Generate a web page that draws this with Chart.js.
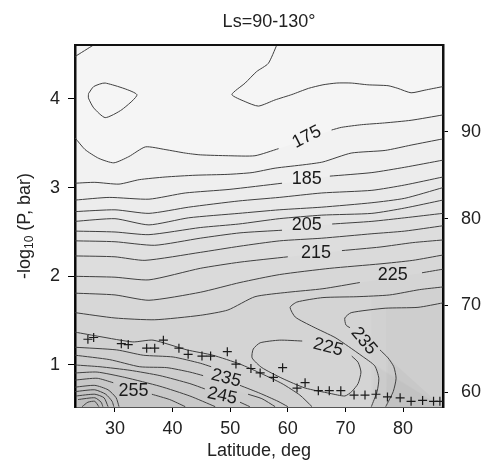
<!DOCTYPE html>
<html>
<head>
<meta charset="utf-8">
<script src="https://cdn.jsdelivr.net/npm/chart.js@4.4.1/dist/chart.umd.min.js"></script>
<style>
  html, body { margin: 0; padding: 0; background: #fff; }
  #wrap { width: 492px; height: 466px; position: relative; }
</style>
</head>
<body>
<div id="wrap"><canvas id="myChart"></canvas></div>
<script>
  const latTicks = [30, 40, 50, 60, 70, 80];
  const pTicks = [1, 2, 3, 4];
  const altTicks = [60, 70, 80, 90];

  // contour lines as [latitude, -log10 P]; null marks a break where a label sits
  const cCorner = [[23.1, 4.48], [26.3, 4.61]];
  const cLoopW = [[25.4, 4.06], [26.3, 4.14], [28.3, 4.18], [33.8, 4.05], [31.2, 3.88], [28.3, 3.79], [26.3, 3.90], [25.4, 4.01], [25.4, 4.06]];
  const c170 = [[58.1, 4.61], [56.6, 4.40], [54.6, 4.31], [52.6, 4.18], [50.3, 4.05], [52.6, 3.97], [54.9, 3.92], [57.8, 3.99], [60.7, 4.05], [63.6, 4.12], [66.1, 4.16], [68.5, 4.18], [71.0, 4.18], [73.9, 4.16], [77.4, 4.15], [79.1, 4.12], [81.4, 4.07], [83.8, 4.10], [86.9, 4.14]];
  const c175 = [[23.1, 3.56], [24.8, 3.43], [27.2, 3.33], [29.8, 3.28], [32.4, 3.35], [35.3, 3.46], [38.7, 3.43], [42.2, 3.39], [44.8, 3.37], [49.7, 3.36], [54.3, 3.36], [58.4, 3.44], [63.0, null], [67.6, 3.65], [69.3, 3.68], [72.8, 3.71], [76.8, 3.73], [81.4, 3.76], [86.9, 3.82]];
  const c180 = [[23.1, 3.05], [26.5, 3.06], [30.7, 3.04], [34.2, 3.09], [38.7, 3.12], [43.9, 3.14], [49.6, 3.15], [53.8, 3.17], [57.8, 3.22], [63.0, 3.26], [66.1, 3.29], [71.0, 3.39], [76.9, 3.42], [81.4, 3.48], [86.9, 3.55]];
  const c185 = [[23.1, 2.86], [29.0, 2.89], [35.9, 2.87], [42.2, 2.94], [49.8, 2.98], [59.0, 3.05], [63.3, null], [67.3, 3.13], [74.6, 3.17], [80.3, 3.23], [86.9, 3.31]];
  const c190 = [[23.1, 2.73], [30.0, 2.75], [35.9, 2.71], [42.8, 2.78], [51.5, 2.85], [58.5, 2.89], [65.9, 2.94], [74.6, 2.97], [80.3, 3.03], [86.9, 3.12]];
  const c195 = [[23.1, 2.62], [30.0, 2.65], [35.9, 2.58], [42.8, 2.66], [51.5, 2.71], [58.5, 2.75], [65.9, 2.78], [74.6, 2.83], [80.3, 2.88], [86.9, 3.00]];
  const c200 = [[23.1, 2.51], [30.0, 2.50], [35.9, 2.47], [44.8, 2.55], [51.5, 2.59], [58.5, 2.65], [65.9, 2.69], [74.6, 2.71], [80.3, 2.77], [86.9, 2.86]];
  const c205 = [[23.1, 2.40], [30.0, 2.39], [36.9, 2.35], [44.8, 2.43], [51.7, 2.49], [59.0, 2.52], [63.3, null], [67.7, 2.59], [74.6, 2.62], [80.3, 2.66], [86.9, 2.71]];
  const c210 = [[23.1, 2.23], [30.0, 2.22], [35.2, 2.18], [44.8, 2.27], [51.7, 2.34], [58.6, 2.40], [65.9, 2.43], [74.6, 2.48], [80.3, 2.51], [86.9, 2.57]];
  const c215 = [[23.1, 2.00], [30.0, 1.99], [35.9, 1.96], [44.8, 2.09], [51.7, 2.16], [60.0, 2.22], [64.9, null], [69.4, 2.29], [76.0, 2.33], [81.7, 2.38], [86.9, 2.41]];
  const c220 = [[23.1, 1.81], [30.0, 1.79], [35.9, 1.73], [44.8, 1.82], [51.7, 1.93], [58.6, 2.02], [67.3, 2.09], [76.0, 2.14], [81.7, 2.18], [86.9, 2.24]];
  const c225 = [[23.1, 1.59], [30.0, 1.53], [36.9, 1.51], [44.8, 1.56], [49.6, 1.62], [54.3, 1.77], [60.0, 1.82], [66.1, 1.86], [72.5, 1.93], [78.2, null], [83.3, 2.04], [86.9, 2.08]];
  const cNose = [[86.9, 1.88], [82.9, 1.85], [77.7, 1.79], [72.0, 1.77], [66.1, 1.76], [61.6, 1.71], [60.4, 1.65], [61.3, 1.54], [64.4, 1.43], [68.2, 1.31], [70.5, 1.21], [72.9, 1.10], [75.1, 0.99], [75.8, 0.85], [75.5, 0.70], [74.5, 0.53]];
  const cHook = [[86.9, 1.70], [82.6, 1.65], [76.9, 1.64], [71.0, 1.59], [69.9, 1.53], [70.1, 1.45], [70.8, 1.42], [73.2, null], [76.0, 1.17], [77.4, 1.08], [78.4, 0.98], [78.8, 0.85], [78.3, 0.70], [77.0, 0.53]];
  const cInner = [[62.5, 1.27], [58.6, 1.28], [55.2, 1.25], [54.0, 1.18], [53.8, 1.08], [55.5, 0.97], [59.0, 0.85], [63.0, 0.74], [67.3, 0.68], [69.9, 0.65], [71.1, 0.70], [72.2, 0.79], [72.7, 0.92], [72.2, 1.03], [71.1, 1.10]];
  const cL230 = [[23.1, 1.37], [27.4, 1.32], [33.1, 1.26], [36.6, 1.28], [42.5, 1.17], [47.0, 1.11], [51.7, 1.01], [55.5, 0.90], [59.0, 0.79], [62.1, 0.66], [64.2, 0.53]];
  const cL235 = [[23.1, 1.20], [30.3, 1.17], [34.9, 1.11], [40.1, 1.09], [44.8, 1.02], [46.7, 0.98], [49.3, null], [51.7, 0.77], [55.2, 0.68], [58.3, 0.59], [60.0, 0.53]];
  const cL240 = [[23.1, 1.11], [29.1, 1.06], [34.3, 0.98], [39.0, 0.97], [43.0, 0.92], [45.3, 0.88], [49.0, null], [53.1, 0.67], [55.5, 0.62], [57.8, 0.53]];
  const cL245 = [[23.1, 1.00], [27.4, 0.98], [32.6, 0.94], [37.8, 0.88], [43.0, 0.79], [45.6, 0.73], [48.6, null], [51.7, 0.58], [53.4, 0.53]];
  const cL250 = [[23.1, 0.91], [26.9, 0.92], [31.7, 0.86], [37.8, 0.76], [43.0, 0.65], [47.4, 0.53]];
  const cL255 = [[23.1, 0.83], [26.9, 0.85], [29.7, 0.80], [33.2, null], [36.4, 0.67], [39.5, 0.61], [42.2, 0.53]];
  const cL260 = [[23.1, 0.75], [26.5, 0.77], [28.8, 0.72], [30.2, 0.63], [30.7, 0.53]];
  const cL265 = [[23.1, 0.70], [26.5, 0.72], [28.4, 0.67], [29.5, 0.59], [29.8, 0.53]];
  const cL270 = [[23.2, 0.65], [26.5, 0.67], [28.1, 0.63], [28.8, 0.53]];
  const cL275 = [[23.6, 0.61], [26.5, 0.63], [27.6, 0.58], [27.9, 0.53]];
  const cL280 = [[24.3, 0.53], [25.3, 0.58], [26.5, 0.59], [27.2, 0.53]];

  // crosses along the lower contours
  const crossLat = [25.3, 26.3, 31.1, 32.3, 35.5, 36.9, 38.4, 41.1, 42.7, 45.1, 46.6, 49.5, 51.0, 53.6, 55.2, 57.5, 59.1, 61.6, 63.0, 65.3, 67.2, 69.2, 71.5, 73.4, 75.3, 77.3, 79.5, 81.4, 83.4, 85.3, 86.4];
  const crossP = [1.29, 1.31, 1.24, 1.23, 1.19, 1.19, 1.28, 1.19, 1.12, 1.10, 1.10, 1.15, 1.01, 0.96, 0.91, 0.86, 0.97, 0.74, 0.80, 0.71, 0.71, 0.71, 0.66, 0.66, 0.67, 0.64, 0.63, 0.59, 0.60, 0.59, 0.59];

  // contour labels
  const labelText = ['175', '185', '205', '215', '225', '235', '225', '235', '245', '255'];
  const labelLat = [63.3, 63.3, 63.3, 64.9, 78.2, 73.2, 67.0, 49.3, 48.6, 33.2];
  const labelP = [3.57, 3.10, 2.58, 2.26, 2.01, 1.27, 1.20, 0.85, 0.65, 0.71];

  const FONT = '"Liberation Sans", Arial, Helvetica, sans-serif';
  Chart.defaults.font.family = FONT;
  Chart.defaults.font.size = 18;
  Chart.defaults.color = '#222';

  const pts = arr => arr.map(p => ({ x: p[0], y: p[1] }));

  const mainLines = [c175, c180, c185, c190, c195, c200, c205, c210, c215, c220, c225, cL230, cNose, cHook];
  const lowLines = [cL235, cL240, cL245, cL250, cL255, cL260, cL265, cL270, cL275, cL280];
  const otherLines = [cCorner, cLoopW, c170, cInner];

  const datasets = [];

  datasets.push({
    data: crossLat.map((v, i) => ({ x: v, y: crossP[i] })),
    showLine: false,
    pointStyle: 'cross',
    pointRadius: 4.5,
    pointBorderColor: '#1a1a1a',
    pointBorderWidth: 1.2,
    order: 0
  });

  [...otherLines, ...mainLines, ...lowLines].forEach(arr => {
    datasets.push({
      data: pts(arr),
      borderColor: '#404040',
      borderWidth: 1,
      pointRadius: 0,
      tension: 0.2,
      spanGaps: false,
      fill: false,
      order: 1
    });
  });

  // shading: each contour darkens everything below it a little
  mainLines.forEach(arr => {
    datasets.push({
      data: pts(arr),
      borderWidth: 0,
      borderColor: 'rgba(0,0,0,0)',
      backgroundColor: 'rgba(0,0,0,0.013)',
      pointRadius: 0,
      tension: 0.2,
      spanGaps: true,
      fill: 'start',
      order: 2
    });
  });
  lowLines.forEach(arr => {
    datasets.push({
      data: pts(arr),
      borderWidth: 0,
      borderColor: 'rgba(0,0,0,0)',
      backgroundColor: 'rgba(0,0,0,0.006)',
      pointRadius: 0,
      tension: 0.2,
      spanGaps: true,
      fill: 'start',
      order: 2
    });
  });

  const framePlugin = {
    id: 'frame',
    beforeDraw(chart) {
      const { ctx, chartArea: a } = chart;
      ctx.save();
      ctx.fillStyle = '#f5f5f5';
      ctx.fillRect(a.left, a.top, a.right - a.left, a.bottom - a.top);
      ctx.restore();
    },
    afterDraw(chart) {
      const { ctx, chartArea: a } = chart;
      ctx.save();
      ctx.strokeStyle = '#111';
      ctx.lineWidth = 2;
      ctx.beginPath();
      ctx.moveTo(a.left - 1, a.top);
      ctx.lineTo(a.right + 1, a.top);
      ctx.stroke();

      ctx.fillStyle = '#222';
      ctx.textAlign = 'center';
      ctx.textBaseline = 'middle';
      ctx.font = '18px ' + FONT;
      ctx.fillText('Ls=90-130°', (a.left + a.right) / 2 + 10, 22);

      // y axis title with a subscript
      ctx.translate(25, (a.top + a.bottom) / 2);
      ctx.rotate(-Math.PI / 2);
      const big = '18px ' + FONT, small = '12px ' + FONT;
      ctx.font = big;
      const w1 = ctx.measureText('-log').width;
      const w3 = ctx.measureText(' (P, bar)').width;
      ctx.font = small;
      const w2 = ctx.measureText('10').width;
      let x0 = -(w1 + w2 + w3) / 2;
      ctx.textAlign = 'left';
      ctx.font = big; ctx.fillText('-log', x0, 0); x0 += w1;
      ctx.font = small; ctx.fillText('10', x0, 5); x0 += w2;
      ctx.font = big; ctx.fillText(' (P, bar)', x0, 0);
      ctx.restore();
    }
  };

  const labelPlugin = {
    id: 'contourLabels',
    afterDatasetsDraw(chart, args, opts) {
      const { ctx, scales: { x, y } } = chart;
      ctx.save();
      ctx.font = '18px ' + FONT;
      ctx.fillStyle = '#1a1a1a';
      ctx.textAlign = 'center';
      ctx.textBaseline = 'middle';
      labelText.forEach((t, i) => {
        ctx.save();
        ctx.translate(x.getPixelForValue(labelLat[i]), y.getPixelForValue(labelP[i]));
        ctx.rotate(opts.angles[i] * Math.PI / 180);
        ctx.fillText(t, 0, 0);
        ctx.restore();
      });
      ctx.restore();
    }
  };

  const ctx = document.getElementById('myChart').getContext('2d');
  const chart = new Chart(ctx, {
    type: 'line',
    data: { datasets },
    plugins: [framePlugin, labelPlugin],
    options: {
      responsive: true,
      maintainAspectRatio: false,
      animation: false,
      events: [],
      layout: { padding: { top: 45, left: 0, right: 0, bottom: 0 } },
      plugins: {
        legend: { display: false },
        tooltip: { enabled: false },
        contourLabels: { angles: [-27, 0, 0, 0, 0, 50, 15, 15, 12, 0] }
      },
      scales: {
        x: {
          type: 'linear',
          min: 23.06,
          max: 86.94,
          afterBuildTicks: s => { s.ticks = latTicks.map(v => ({ value: v })); },
          afterFit: s => { s.height = 59; },
          grid: { drawOnChartArea: false, tickLength: 5, color: '#000' },
          border: { color: '#555', width: 1 },
          ticks: { padding: 6, color: '#222' },
          title: { display: true, text: 'Latitude, deg', color: '#222', padding: { top: 0, bottom: 4 } }
        },
        y: {
          position: 'left',
          min: 0.526,
          max: 4.609,
          afterBuildTicks: s => { s.ticks = pTicks.map(v => ({ value: v })); },
          afterFit: s => { s.width = 75; },
          grid: { drawOnChartArea: false, tickLength: 7, color: '#000' },
          border: { color: '#111', width: 2.5 },
          ticks: { padding: 8, color: '#222' }
        },
        y2: {
          position: 'right',
          min: 58.3,
          max: 100,
          afterBuildTicks: s => { s.ticks = altTicks.map(v => ({ value: v })); },
          afterFit: s => { s.width = 49; },
          grid: { drawOnChartArea: false, tickLength: 5, color: '#000' },
          border: { color: '#111', width: 2.5 },
          ticks: { padding: 13, color: '#222' }
        }
      }
    }
  });
</script>
</body>
</html>
